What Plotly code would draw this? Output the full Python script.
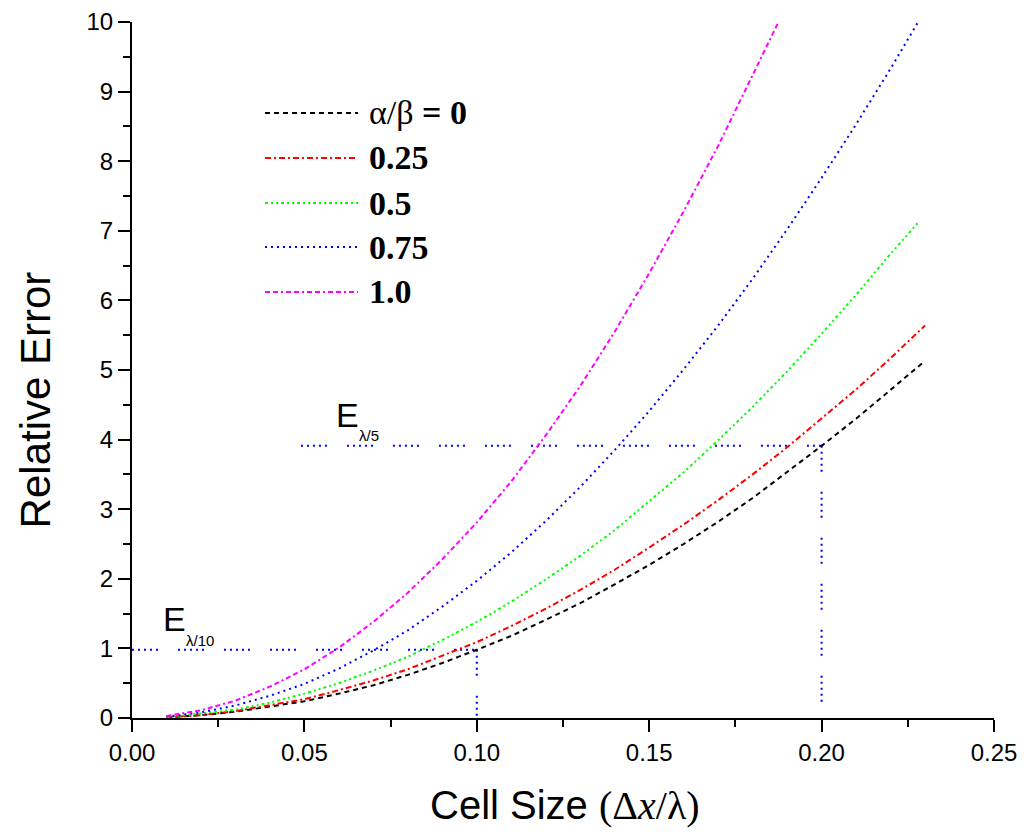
import plotly.graph_objects as go

# ---------------- data ----------------
x_full = [0.01, 0.02, 0.03, 0.04, 0.05, 0.06, 0.07, 0.08, 0.09, 0.10,
          0.11, 0.12, 0.13, 0.14, 0.15, 0.16, 0.17, 0.18, 0.19, 0.20,
          0.21, 0.22, 0.23]

err_ab_0 = [0.01, 0.04, 0.09, 0.16, 0.24, 0.35, 0.47, 0.62, 0.79, 0.98,
            1.18, 1.41, 1.65, 1.92, 2.20, 2.50, 2.82, 3.16, 3.53, 3.91,
            4.30, 4.71, 5.13]

err_ab_025 = [0.01, 0.04, 0.10, 0.18, 0.27, 0.40, 0.54, 0.70, 0.89, 1.09,
              1.32, 1.57, 1.84, 2.13, 2.45, 2.78, 3.13, 3.50, 3.89, 4.30,
              4.72, 5.17, 5.64]

x_ab_05 = [0.01, 0.02, 0.03, 0.04, 0.05, 0.06, 0.07, 0.08, 0.09, 0.10,
           0.11, 0.12, 0.13, 0.14, 0.15, 0.16, 0.17, 0.18, 0.19, 0.20,
           0.21, 0.22, 0.228]
err_ab_05 = [0.01, 0.06, 0.12, 0.22, 0.35, 0.50, 0.68, 0.88, 1.12, 1.38,
             1.67, 1.99, 2.33, 2.70, 3.11, 3.53, 3.99, 4.47, 4.98, 5.52,
             6.08, 6.67, 7.12]

x_ab_075 = [0.01, 0.02, 0.03, 0.04, 0.05, 0.06, 0.07, 0.08, 0.09, 0.10,
            0.11, 0.12, 0.13, 0.14, 0.15, 0.16, 0.17, 0.18, 0.19, 0.20,
            0.21, 0.22, 0.228]
err_ab_075 = [0.02, 0.08, 0.18, 0.32, 0.49, 0.71, 0.97, 1.26, 1.60, 1.97,
              2.38, 2.83, 3.32, 3.85, 4.41, 5.01, 5.64, 6.31, 7.02, 7.76,
              8.53, 9.33, 10.0]

x_ab_1 = [0.01, 0.02, 0.03, 0.04, 0.05, 0.06, 0.07, 0.08, 0.09, 0.10,
          0.11, 0.12, 0.13, 0.14, 0.15, 0.16, 0.17, 0.18, 0.1875]
err_ab_1 = [0.03, 0.11, 0.25, 0.45, 0.70, 1.01, 1.38, 1.80, 2.28, 2.81,
            3.40, 4.06, 4.77, 5.55, 6.39, 7.28, 8.22, 9.23, 10.0]

series_names = ["α/β = 0", "0.25", "0.5", "0.75", "1.0"]
series_x = [x_full, x_full, x_ab_05, x_ab_075, x_ab_1]
series_y = [err_ab_0, err_ab_025, err_ab_05, err_ab_075, err_ab_1]

# reference (guide) lines: E at lambda/5 and lambda/10
guide5_hx = [0.049, 0.20]
guide5_hy = [3.91, 3.91]
guide5_vx = [0.20, 0.20]
guide5_vy = [3.91, 0.0]
guide10_hx = [0.0, 0.10]
guide10_hy = [0.98, 0.98]
guide10_vx = [0.10, 0.10]
guide10_vy = [0.98, 0.0]

x_ticks = [0.00, 0.05, 0.10, 0.15, 0.20, 0.25]
x_tick_labels = ["0.00", "0.05", "0.10", "0.15", "0.20", "0.25"]
y_ticks = [0, 1, 2, 3, 4, 5, 6, 7, 8, 9, 10]

# ---------------- styles ----------------
colors = ["#000000", "#FF0000", "#00FF00", "#0000FF", "#FF00FF"]
dashes = ["5px,4px", "6px,3px,2px,3px", "3px,3px,2px,3px,2px,3px",
          "2px,4px", "5px,3px,5px,3px,2px,3px"]
guide_dash = "2px,4px,2px,4px,2px,4px,2px,4px,2px,20px"
sans = "Liberation Sans Narrow, Arial Narrow, Liberation Sans, Arial, sans-serif"
serif = "Liberation Serif, Times New Roman, serif"

fig = go.Figure()

for gx, gy in [(guide5_hx, guide5_hy), (guide5_vx, guide5_vy),
               (guide10_hx, guide10_hy), (guide10_vx, guide10_vy)]:
    fig.add_trace(go.Scatter(x=gx, y=gy, mode="lines", showlegend=False,
                             line=dict(color="#0000FF", width=2, dash=guide_dash),
                             hoverinfo="skip"))

for name, xs, ys, c, d in zip(series_names, series_x, series_y, colors, dashes):
    fig.add_trace(go.Scatter(x=xs, y=ys, mode="lines", name=name, showlegend=False,
                             line=dict(color=c, width=2, dash=d)))

# ---------------- custom legend (samples + labels) ----------------
leg_y = [0.8693, 0.8046, 0.7399, 0.6767, 0.6121]
leg_x0, leg_x1, leg_tx = 0.1543, 0.2622, 0.2726
for i, (name, c, d) in enumerate(zip(series_names, colors, dashes)):
    fig.add_shape(type="line", xref="paper", yref="paper",
                  x0=leg_x0, x1=leg_x1, y0=leg_y[i], y1=leg_y[i],
                  line=dict(color=c, width=2, dash=d))
    if i == 0:
        txt = "α/β <b>= 0</b>"
    else:
        txt = "<b>" + name + "</b>"
    fig.add_annotation(xref="paper", yref="paper", x=leg_tx, y=leg_y[i],
                       xanchor="left", yanchor="middle", showarrow=False,
                       text=txt, font=dict(family=serif, size=34, color="black"))

# ---------------- E labels ----------------
fig.add_annotation(x=0.0585, y=4.36, xref="x", yref="y", showarrow=False,
                   xanchor="left", yanchor="middle", text="E",
                   font=dict(family="Liberation Sans, Arial", size=34, color="black"))
fig.add_annotation(x=0.0652, y=4.06, xref="x", yref="y", showarrow=False,
                   xanchor="left", yanchor="middle", text="λ/5",
                   font=dict(family="Liberation Sans, Arial", size=15, color="black"))
fig.add_annotation(x=0.0085, y=1.42, xref="x", yref="y", showarrow=False,
                   xanchor="left", yanchor="middle", text="E",
                   font=dict(family="Liberation Sans, Arial", size=34, color="black"))
fig.add_annotation(x=0.0150, y=1.11, xref="x", yref="y", showarrow=False,
                   xanchor="left", yanchor="middle", text="λ/10",
                   font=dict(family="Liberation Sans, Arial", size=15, color="black"))

# ---------------- axis titles ----------------
fig.add_annotation(xref="paper", yref="paper", x=-0.112, y=0.457,
                   textangle=-90, showarrow=False, xanchor="center", yanchor="middle",
                   text="Relative Error",
                   font=dict(family="Liberation Sans, Arial", size=42, color="black"))
fig.add_annotation(xref="paper", yref="paper", x=0.502, y=-0.125,
                   showarrow=False, xanchor="center", yanchor="middle",
                   text="Cell Size <span style=\"font-family:'Liberation Serif', 'Times New Roman', serif\">(Δ<i>x</i>/λ)</span>",
                   font=dict(family="Liberation Sans, Arial", size=40, color="black"))

axis_common = dict(showline=True, linecolor="black", linewidth=2,
                   ticks="outside", ticklen=12, tickwidth=2, tickcolor="black",
                   showgrid=False, zeroline=False,
                   tickfont=dict(family=sans, size=24, color="black"))

fig.update_xaxes(range=[0, 0.25], tickvals=x_ticks, ticktext=x_tick_labels,
                 minor=dict(dtick=0.025, ticks="outside", ticklen=7, tickwidth=2,
                            tickcolor="black", showgrid=False),
                 **axis_common)
fig.update_yaxes(range=[0, 10], tickvals=y_ticks,
                 minor=dict(dtick=0.5, ticks="outside", ticklen=7, tickwidth=2,
                            tickcolor="black", showgrid=False),
                 **axis_common)

fig.update_layout(width=1026, height=838,
                  margin=dict(l=132, r=32, t=22, b=120, autoexpand=False),
                  paper_bgcolor="white", plot_bgcolor="white",
                  showlegend=False)

fig.write_html("out.html")
